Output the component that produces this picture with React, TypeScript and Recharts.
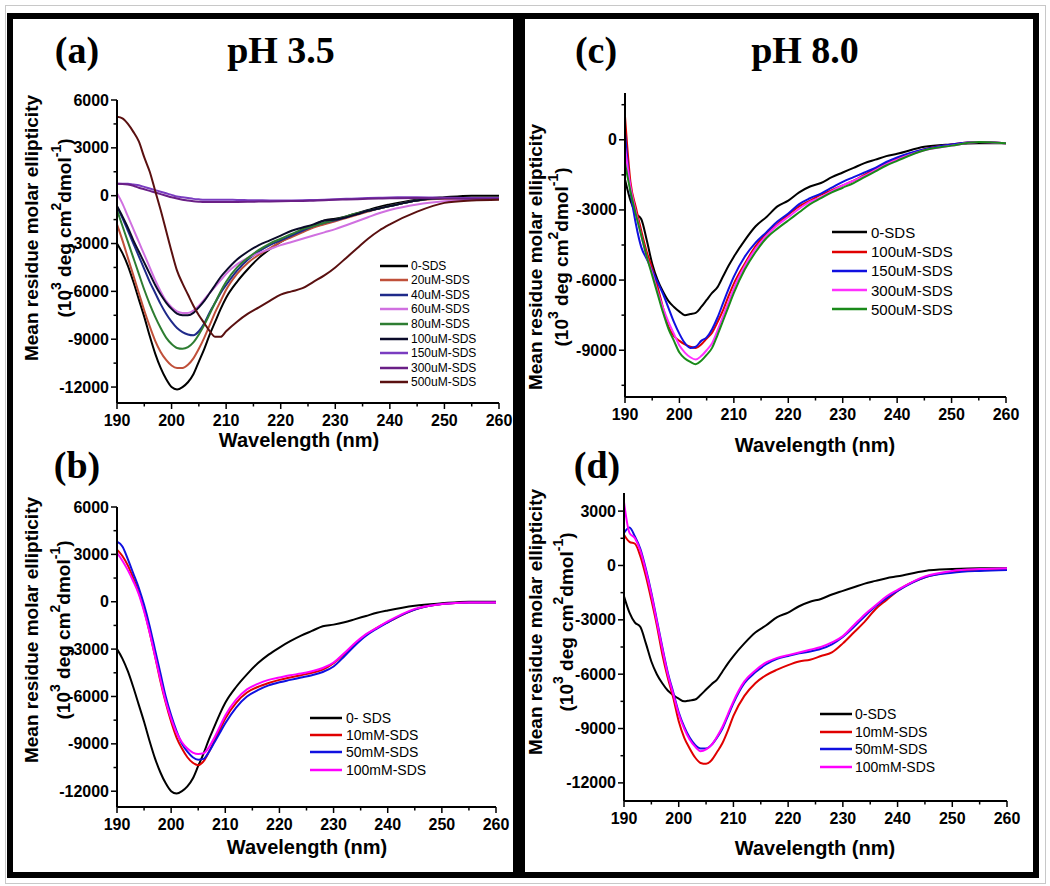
import React from 'react';
import { LineChart, Line, XAxis, YAxis, Legend } from 'recharts';

const SANS = 'Arial, "Liberation Sans", Helvetica, sans-serif';
const SERIF = '"Times New Roman", "Liberation Serif", serif';

// wavelengths (nm)
const wavelengths = [190,191,192,193,194,195,196,197,198,199,200,201,202,203,204,205,206,207,208,209,210,212,214,216,218,220,222,224,226,228,230,232,234,236,238,240,245,250,255,260];
const xTicks = [190,195,200,205,210,215,220,225,230,235,240,245,250,255,260];

// ---- pH 3.5 ----
const zeroSDS_pH35 = [-3000,-3600,-4400,-5400,-6500,-7600,-8800,-9900,-10800,-11500,-12000,-12150,-12000,-11700,-11200,-10400,-9600,-8700,-7900,-7100,-6400,-5400,-4600,-3900,-3350,-2900,-2500,-2150,-1850,-1550,-1450,-1300,-1100,-900,-700,-550,-250,-100,0,0];
const a20uM = [-1800,-2800,-3900,-5000,-6100,-7200,-8200,-9100,-9800,-10300,-10650,-10800,-10800,-10600,-10200,-9600,-8900,-8100,-7300,-6600,-5900,-4900,-4200,-3700,-3300,-2900,-2600,-2300,-2000,-1800,-1600,-1400,-1200,-1000,-800,-650,-300,-200,-200,-200];
const a40uM = [-700,-1400,-2200,-3000,-3800,-4600,-5400,-6100,-6800,-7400,-7900,-8300,-8550,-8700,-8750,-8500,-8000,-7300,-6700,-6100,-5600,-4700,-4000,-3500,-3100,-2800,-2500,-2200,-1900,-1700,-1550,-1350,-1150,-950,-800,-650,-300,-150,-150,-150];
const a60uM = [150,-500,-1300,-2100,-2900,-3700,-4500,-5300,-6000,-6600,-7000,-7250,-7350,-7350,-7200,-6900,-6500,-6100,-5700,-5300,-4900,-4300,-3900,-3600,-3350,-3100,-2900,-2700,-2500,-2300,-2100,-1850,-1600,-1350,-1100,-900,-550,-350,-250,-200];
const a80uM = [-900,-1900,-2900,-3900,-4900,-5900,-6800,-7600,-8300,-8900,-9300,-9550,-9600,-9500,-9200,-8700,-8100,-7400,-6700,-6000,-5400,-4500,-3900,-3400,-3000,-2700,-2400,-2100,-1900,-1700,-1500,-1300,-1100,-950,-800,-650,-300,-150,-150,-150];
const a100uM = [-650,-1300,-2000,-2800,-3500,-4200,-4900,-5600,-6200,-6700,-7100,-7400,-7500,-7500,-7350,-7000,-6600,-6100,-5600,-5100,-4700,-4000,-3500,-3100,-2800,-2500,-2200,-2000,-1800,-1550,-1500,-1350,-1150,-950,-800,-650,-300,-150,-150,-150];
const a150uM = [750,750,750,700,650,550,450,350,250,150,50,-50,-100,-150,-200,-230,-250,-250,-250,-250,-250,-270,-280,-290,-300,-300,-300,-290,-270,-250,-220,-200,-170,-150,-130,-110,-100,-130,-150,-150];
const a300uM = [750,740,700,620,500,400,300,200,100,0,-100,-180,-250,-300,-350,-380,-400,-400,-400,-400,-400,-390,-380,-370,-360,-350,-340,-330,-310,-290,-260,-240,-220,-200,-180,-160,-150,-170,-200,-200];
const a500uM = [4950,4850,4500,4000,3400,2400,1500,300,-900,-2200,-3500,-4700,-5500,-6200,-6900,-7500,-8000,-8500,-8850,-8850,-8500,-7900,-7400,-7000,-6600,-6200,-6000,-5800,-5400,-5000,-4500,-3900,-3300,-2700,-2200,-1800,-1000,-450,-300,-250];

const b10mM = [3300,2900,2300,1500,600,-500,-1900,-3400,-5000,-6400,-7600,-8600,-9300,-9850,-10200,-10350,-10100,-9500,-8800,-8100,-7400,-6400,-5750,-5400,-5150,-4950,-4800,-4650,-4500,-4300,-3900,-3300,-2650,-2100,-1650,-1300,-500,-150,-50,-50];
const b50mM = [3800,3500,2700,1800,900,-200,-1500,-3000,-4500,-6000,-7200,-8200,-9000,-9500,-9850,-10000,-9950,-9500,-8900,-8300,-7700,-6700,-6000,-5600,-5300,-5100,-4950,-4800,-4650,-4450,-4100,-3450,-2750,-2150,-1700,-1300,-500,-150,-50,-50];
const b100mM = [3100,2600,2000,1300,500,-600,-1900,-3400,-4900,-6300,-7400,-8300,-8900,-9300,-9550,-9650,-9600,-9200,-8600,-7900,-7200,-6200,-5550,-5200,-4950,-4800,-4650,-4550,-4400,-4200,-3850,-3250,-2600,-2050,-1650,-1250,-450,-150,-50,-50];

// ---- pH 8.0 ----
const zeroSDS_pH8 = [-1700,-2600,-3150,-3400,-4300,-5300,-6000,-6500,-6900,-7150,-7350,-7500,-7450,-7400,-7150,-6850,-6550,-6300,-5850,-5400,-5000,-4300,-3700,-3300,-2850,-2600,-2250,-2000,-1850,-1600,-1400,-1200,-1000,-850,-700,-600,-300,-200,-150,-150];
const c100uM = [1000,-1800,-2900,-3900,-4800,-5500,-6300,-7200,-8000,-8400,-8600,-8750,-8850,-8900,-8750,-8500,-8250,-7800,-7300,-6700,-6150,-5300,-4550,-4000,-3600,-3200,-2850,-2600,-2350,-2150,-1950,-1750,-1500,-1250,-1000,-800,-400,-200,-100,-150];
const c150uM = [300,-2200,-3600,-4600,-5100,-5600,-6100,-6600,-7200,-7800,-8300,-8700,-8900,-8850,-8600,-8450,-8100,-7600,-7000,-6400,-5850,-5000,-4400,-3950,-3500,-3150,-2750,-2500,-2300,-2050,-1800,-1600,-1400,-1200,-950,-750,-400,-200,-100,-150];
const c300uM = [-300,-2000,-3100,-4100,-5000,-5700,-6500,-7200,-7800,-8300,-8800,-9100,-9300,-9400,-9250,-9000,-8700,-8150,-7550,-6950,-6350,-5400,-4650,-4100,-3650,-3300,-2950,-2650,-2450,-2200,-1950,-1750,-1550,-1300,-1050,-850,-450,-250,-100,-150];
const c500uM = [-1000,-2200,-3200,-4100,-5000,-5800,-6600,-7400,-8100,-8600,-9100,-9350,-9500,-9600,-9450,-9200,-8900,-8350,-7750,-7150,-6550,-5550,-4800,-4200,-3800,-3450,-3100,-2750,-2500,-2250,-2050,-1850,-1600,-1350,-1100,-900,-450,-250,-100,-150];

const d10mM = [1700,1300,1200,500,-600,-1900,-3300,-4900,-6200,-7300,-8600,-9500,-10100,-10600,-10900,-10950,-10750,-10300,-9800,-9100,-8300,-7200,-6500,-6050,-5750,-5500,-5300,-5200,-5000,-4800,-4300,-3700,-3100,-2400,-1900,-1400,-650,-350,-250,-200];
const d50mM = [1800,2100,1600,900,-200,-1500,-3000,-4500,-5900,-7000,-8100,-8900,-9500,-9900,-10100,-10100,-9900,-9500,-9000,-8300,-7600,-6500,-5900,-5450,-5150,-5000,-4850,-4750,-4600,-4350,-3950,-3400,-2800,-2250,-1800,-1400,-650,-400,-300,-250];
const d100mM = [3500,1800,1500,800,-300,-1600,-3100,-4600,-6000,-7100,-8200,-9000,-9600,-10000,-10250,-10150,-9900,-9450,-8900,-8200,-7500,-6400,-5800,-5350,-5100,-4950,-4800,-4650,-4500,-4250,-3900,-3300,-2700,-2200,-1700,-1350,-600,-300,-200,-150];

const yTicksA = [6000,4500,3000,1500,0,-1500,-3000,-4500,-6000,-7500,-9000,-10500,-12000];
const yTicksC = [1500,0,-1500,-3000,-4500,-6000,-7500,-9000,-10500];
const yTicksD = [3000,1500,0,-1500,-3000,-4500,-6000,-7500,-9000,-10500,-12000];

type Series = { key: string; name: string; color: string; values: number[] };

const seriesA: Series[] = [
  { key: 's0', name: '0-SDS', color: '#000000', values: zeroSDS_pH35 },
  { key: 's20', name: '20uM-SDS', color: '#c0503a', values: a20uM },
  { key: 's40', name: '40uM-SDS', color: '#1f2a8a', values: a40uM },
  { key: 's60', name: '60uM-SDS', color: '#d070e0', values: a60uM },
  { key: 's80', name: '80uM-SDS', color: '#2e7d32', values: a80uM },
  { key: 's100', name: '100uM-SDS', color: '#0b0b2a', values: a100uM },
  { key: 's150', name: '150uM-SDS', color: '#7a3cc0', values: a150uM },
  { key: 's300', name: '300uM-SDS', color: '#6a1f86', values: a300uM },
  { key: 's500', name: '500uM-SDS', color: '#5a1010', values: a500uM },
];
const seriesB: Series[] = [
  { key: 's0', name: '0- SDS', color: '#000000', values: zeroSDS_pH35 },
  { key: 's10', name: '10mM-SDS', color: '#e00000', values: b10mM },
  { key: 's50', name: '50mM-SDS', color: '#1010e0', values: b50mM },
  { key: 's100', name: '100mM-SDS', color: '#ff00ff', values: b100mM },
];
const seriesC: Series[] = [
  { key: 's0', name: '0-SDS', color: '#000000', values: zeroSDS_pH8 },
  { key: 's100', name: '100uM-SDS', color: '#e00000', values: c100uM },
  { key: 's150', name: '150uM-SDS', color: '#1010e0', values: c150uM },
  { key: 's300', name: '300uM-SDS', color: '#ff30ff', values: c300uM },
  { key: 's500', name: '500uM-SDS', color: '#1a8a1a', values: c500uM },
];
const seriesD: Series[] = [
  { key: 's0', name: '0-SDS', color: '#000000', values: zeroSDS_pH8 },
  { key: 's10', name: '10mM-SDS', color: '#e00000', values: d10mM },
  { key: 's50', name: '50mM-SDS', color: '#1010e0', values: d50mM },
  { key: 's100', name: '100mM-SDS', color: '#ff00ff', values: d100mM },
];

type PanelCfg = {
  left: number; top: number; width: number; height: number;
  margin: { top: number; right: number; bottom: number; left: number };
  yDomain: [number, number]; yTicks: number[]; series: Series[];
  legend: { x: number; y: number; rowH: number; lineW: number; gap: number; font: number };
  ylab: { x1: number; x2: number; cy: number };
  xlab: { x: number; y: number };
};

const XTick = (props: any) => {
  const { x, y, payload } = props;
  const major = payload.value % 10 === 0;
  return (
    <g>
      <line x1={x} x2={x} y1={y} y2={y + (major ? 6 : 3.5)} stroke="#000" strokeWidth={1.5} />
      {major && (
        <text x={x} y={y + 17} textAnchor="middle" dominantBaseline="central" fontSize={16} fontWeight="bold" fontFamily={SANS} fill="#000">
          {payload.value}
        </text>
      )}
    </g>
  );
};

const YTick = (props: any) => {
  const { x, y, payload } = props;
  const major = payload.value % 3000 === 0;
  return (
    <g>
      <line x1={x - (major ? 6 : 3.5)} x2={x} y1={y} y2={y} stroke="#000" strokeWidth={1.5} />
      {major && (
        <text x={x - 8} y={y} textAnchor="end" dominantBaseline="central" fontSize={16} fontWeight="bold" fontFamily={SANS} fill="#000">
          {payload.value}
        </text>
      )}
    </g>
  );
};

const YLabel = ({ x1, x2, cy }: { x1: number; x2: number; cy: number }) => (
  <g>
    <text transform={`translate(${x1},${cy}) rotate(-90)`} textAnchor="middle" dominantBaseline="central" fontSize={19} fontWeight="bold" fontFamily={SANS} fill="#000">
      Mean residue molar ellipticity
    </text>
    <text transform={`translate(${x2},${cy}) rotate(-90)`} textAnchor="middle" dominantBaseline="central" fontSize={19} fontWeight="bold" fontFamily={SANS} fill="#000">
      (10<tspan dy={-8} fontSize={14}>3</tspan>
      <tspan dy={8}> deg cm</tspan>
      <tspan dy={-8} fontSize={14}>2</tspan>
      <tspan dy={8}>dmol</tspan>
      <tspan dy={-8} fontSize={14}>-1</tspan>
      <tspan dy={8}>)</tspan>
    </text>
  </g>
);

const LegendBox = ({ payload, cfg, order }: { payload?: any[]; cfg: PanelCfg['legend']; order: string[] }) => {
  const items = [...(payload || [])].sort((p, q) => order.indexOf(String(p.dataKey)) - order.indexOf(String(q.dataKey)));
  return (
    <div style={{ fontFamily: SANS, fontSize: cfg.font, color: '#000', lineHeight: 1 }}>
      {items.map((p: any, i: number) => (
        <div key={i} style={{ display: 'flex', alignItems: 'center', height: cfg.rowH, whiteSpace: 'nowrap' }}>
          <svg width={cfg.lineW} height={6} style={{ marginRight: cfg.gap, display: 'block' }}>
            <line x1={0} x2={cfg.lineW} y1={3} y2={3} stroke={p.color} strokeWidth={2.5} />
          </svg>
          <span>{p.value}</span>
        </div>
      ))}
    </div>
  );
};

const Panel = ({ cfg }: { cfg: PanelCfg }) => {
  const rows = wavelengths.map((w, i) => {
    const r: any = { w };
    cfg.series.forEach((s) => { r[s.key] = s.values[i]; });
    return r;
  });
  const order = cfg.series.map((s) => s.key);
  return (
    <div style={{ position: 'absolute', left: cfg.left, top: cfg.top, width: cfg.width, height: cfg.height }}>
      <LineChart width={cfg.width} height={cfg.height} data={rows} margin={cfg.margin}>
        <XAxis
          dataKey="w" type="number" domain={[190, 260]} ticks={xTicks} interval={0}
          tick={XTick} tickLine={false} tickSize={0} tickMargin={0} height={30}
          axisLine={{ stroke: '#000', strokeWidth: 2 }} allowDataOverflow
          label={() => (
            <text x={cfg.xlab.x} y={cfg.xlab.y} textAnchor="middle" dominantBaseline="central" fontSize={20} fontWeight="bold" fontFamily={SANS} fill="#000">
              Wavelength (nm)
            </text>
          )}
        />
        <YAxis
          type="number" domain={cfg.yDomain} ticks={cfg.yTicks} interval={0}
          tick={YTick} tickLine={false} tickSize={0} tickMargin={0} width={60}
          axisLine={{ stroke: '#000', strokeWidth: 2 }} allowDataOverflow
          label={() => <YLabel x1={cfg.ylab.x1} x2={cfg.ylab.x2} cy={cfg.ylab.cy} />}
        />
        {cfg.series.map((s) => (
          <Line key={s.key} dataKey={s.key} name={s.name} stroke={s.color} strokeWidth={2} type="monotone" dot={false} activeDot={false} isAnimationActive={false} />
        ))}
        <Legend
          layout="horizontal" verticalAlign="middle" align="center"
          wrapperStyle={{ left: cfg.legend.x, top: cfg.legend.y, width: 200, height: 'auto' }}
          content={(p: any) => <LegendBox payload={p.payload} cfg={cfg.legend} order={order} />}
        />
      </LineChart>
    </div>
  );
};

const panelA: PanelCfg = {
  left: 13, top: 19, width: 500, height: 440,
  margin: { top: 81, right: 14, bottom: 26, left: 44 },
  yDomain: [-13000, 6000], yTicks: yTicksA, series: seriesA,
  legend: { x: 367, y: 239.4, rowH: 14.6, lineW: 28, gap: 3, font: 12 },
  ylab: { x1: 18, x2: 51, cy: 209 },
  xlab: { x: 286, y: 421 },
};
const panelB: PanelCfg = {
  left: 13, top: 440, width: 500, height: 432,
  margin: { top: 67, right: 17, bottom: 35, left: 44 },
  yDomain: [-13000, 6000], yTicks: yTicksA, series: seriesB,
  legend: { x: 297, y: 269, rowH: 17.4, lineW: 32, gap: 4, font: 14 },
  ylab: { x1: 18, x2: 50, cy: 190 },
  xlab: { x: 294, y: 407 },
};
const panelC: PanelCfg = {
  left: 525, top: 19, width: 508, height: 440,
  margin: { top: 74, right: 27, bottom: 32, left: 40 },
  yDomain: [-11000, 2000], yTicks: yTicksC, series: seriesC,
  legend: { x: 307, y: 203.7, rowH: 19.25, lineW: 35, gap: 4, font: 15 },
  ylab: { x1: 10, x2: 36, cy: 238 },
  xlab: { x: 290, y: 426 },
};
const panelD: PanelCfg = {
  left: 525, top: 440, width: 508, height: 432,
  margin: { top: 53, right: 26, bottom: 41, left: 39 },
  yDomain: [-13000, 4000], yTicks: yTicksD, series: seriesD,
  legend: { x: 295, y: 265.2, rowH: 17.6, lineW: 32, gap: 3, font: 14 },
  ylab: { x1: 10, x2: 41, cy: 182 },
  xlab: { x: 290, y: 408 },
};

const Title = ({ x, y, text }: { x: number; y: number; text: string }) => (
  <div style={{ position: 'absolute', left: x, top: y, transform: 'translate(-50%, -50%)', fontFamily: SERIF, fontWeight: 'bold', fontSize: 38, lineHeight: 1, whiteSpace: 'nowrap', color: '#000' }}>
    {text}
  </div>
);

export default function App() {
  return (
    <div style={{ position: 'absolute', left: 0, top: 0, width: 1050, height: 886, background: '#fff', overflow: 'hidden' }}>
      <div style={{ position: 'absolute', left: 5, top: 5, width: 1041, height: 879, border: '1px solid #c8c8c8', boxSizing: 'border-box' }} />
      <div style={{ position: 'absolute', left: 7, top: 13, width: 512, height: 865, border: '6px solid #000', boxSizing: 'border-box' }} />
      <div style={{ position: 'absolute', left: 519, top: 13, width: 520, height: 865, border: '6px solid #000', boxSizing: 'border-box' }} />
      <Panel cfg={panelA} />
      <Panel cfg={panelB} />
      <Panel cfg={panelC} />
      <Panel cfg={panelD} />
      <Title x={77} y={50} text="(a)" />
      <Title x={281} y={50} text="pH 3.5" />
      <Title x={596} y={50} text="(c)" />
      <Title x={805} y={50} text="pH 8.0" />
      <Title x={77} y={465} text="(b)" />
      <Title x={597} y={465} text="(d)" />
    </div>
  );
}
